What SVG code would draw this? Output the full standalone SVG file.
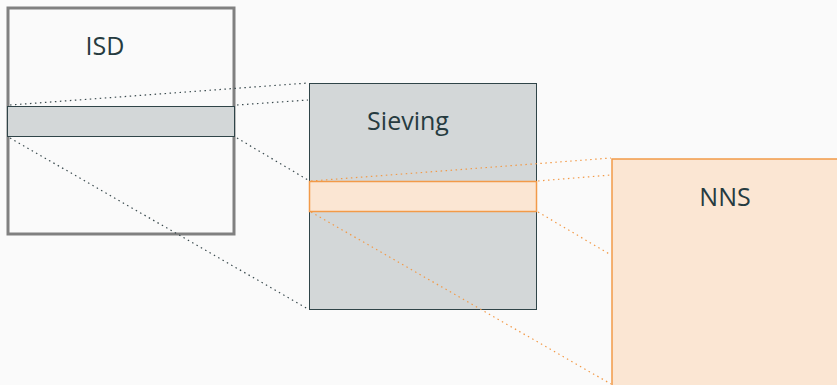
<svg xmlns="http://www.w3.org/2000/svg" width="837" height="385" viewBox="0 0 837 385">
<style>
.lbl{font-family:"Open Sans","Noto Sans","Liberation Sans",sans-serif;font-size:25px;fill:#263b40;text-anchor:middle}
.dg{stroke:#3a4a4e;stroke-width:1.2;stroke-dasharray:1.5 3.5;fill:none}
.do{stroke:#f29a48;stroke-width:1.2;stroke-dasharray:1.5 3.5;fill:none}
.gray{fill:#d3d7d8;stroke:#2f4448;stroke-width:1}
.org{fill:#fbe6d3;stroke:#f29a48;stroke-width:1.5}
</style>
<rect width="837" height="385" fill="#fafafa"/>
<g id="isd">
<rect x="8" y="8" width="226" height="226" fill="#fafafa" stroke="#808080" stroke-width="3"/>
<text class="lbl" x="105" y="55">ISD</text>
</g>
<g id="isd-band">
<rect class="gray" x="7.5" y="106.5" width="227" height="30"/>
</g>
<g id="sieving">
<rect class="gray" x="309.5" y="83.5" width="227" height="226"/>
<text class="lbl" x="408" y="130">Sieving</text>
</g>
<g id="sieving-band">
<rect class="org" x="309.5" y="181.5" width="227" height="30"/>
</g>
<g id="nns">
<rect class="org" x="612" y="159" width="240" height="240"/>
<text class="lbl" x="725" y="206">NNS</text>
</g>
<g id="connectors">
<line class="dg" x1="10" y1="105" x2="308" y2="83"/>
<line class="dg" x1="237" y1="105" x2="308" y2="100"/>
<line class="dg" x1="237" y1="138" x2="308" y2="180"/>
<line class="dg" x1="10" y1="138" x2="308" y2="309"/>
<line class="do" x1="311" y1="181" x2="611" y2="158"/>
<line class="do" x1="538" y1="181" x2="611" y2="175"/>
<line class="do" x1="538" y1="212" x2="611" y2="255"/>
<line class="do" x1="311" y1="212" x2="611" y2="384"/>
</g>
</svg>
